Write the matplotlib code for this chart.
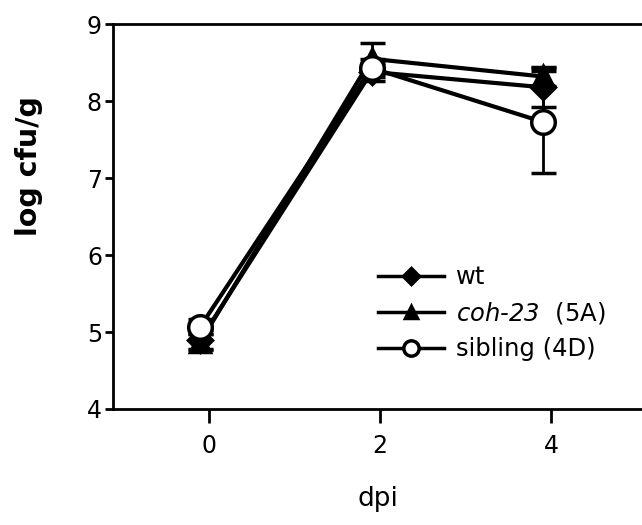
import matplotlib
matplotlib.use("Agg")
import matplotlib.pyplot as plt
from matplotlib.lines import Line2D

# mathtext draws digits with the "rm" font, so both are italic here
plt.rcParams["mathtext.fontset"] = "custom"
plt.rcParams["mathtext.it"] = "DejaVu Sans:italic"
plt.rcParams["mathtext.rm"] = "DejaVu Sans:italic"

# infection time course, log cfu per gram
dpi_x = [-0.1, 1.9, 3.9]

wt_mean = [4.90, 8.38, 8.18]
wt_err = [0.12, 0.12, 0.25]

coh_mean = [4.87, 8.55, 8.32]
coh_err = [0.10, 0.20, 0.12]

sib_mean = [5.07, 8.43, 7.73]
sib_err = [0.10, 0.12, 0.66]

series = [
    ("wt", wt_mean, wt_err, "D", "black", 12),
    ("$coh\\text{-}23$  (5A)", coh_mean, coh_err, "^", "black", 14),
    ("sibling (4D)", sib_mean, sib_err, "o", "white", 17),
]

fig = plt.figure(figsize=(6.42, 5.25), dpi=100)
ax = fig.add_axes([0.176, 0.221, 0.824, 0.733])

handles = []
for label, mean, err, marker, face, ms in series:
    ax.errorbar(dpi_x, mean, yerr=err, color="black", lw=3, marker=marker,
                ms=ms, mfc=face, mec="black", mew=2.5, elinewidth=2,
                capsize=9, capthick=2.5)
    handles.append(Line2D([], [], color="black", lw=2.5, marker=marker,
                          ms=ms * 0.65, mfc=face, mec="black", mew=2.5,
                          label=label))

ax.set_xlim(-1.12, 5.06)
ax.set_ylim(4, 9)
ax.set_xticks([0, 2, 4])
ax.set_yticks([4, 5, 6, 7, 8, 9])
ax.tick_params(axis="x", length=10, width=2, labelsize=17, pad=8)
ax.tick_params(axis="y", length=6, width=2, labelsize=17, pad=2)
for side in ["left", "bottom", "top"]:
    ax.spines[side].set_linewidth(2)
ax.spines["right"].set_visible(False)

ax.set_xlabel("dpi", fontsize=19, labelpad=20)
ax.set_ylabel("log cfu/g", fontsize=20.5, fontweight="bold")
ax.yaxis.set_label_coords(-0.132, 0.63)

ax.legend(handles=handles, loc="upper left", bbox_to_anchor=(0.46, 0.43),
          frameon=False, fontsize=17.5, handlelength=2.7, labelspacing=0.45,
          numpoints=1, handletextpad=0.5)

fig.savefig("out.png", dpi=100)
